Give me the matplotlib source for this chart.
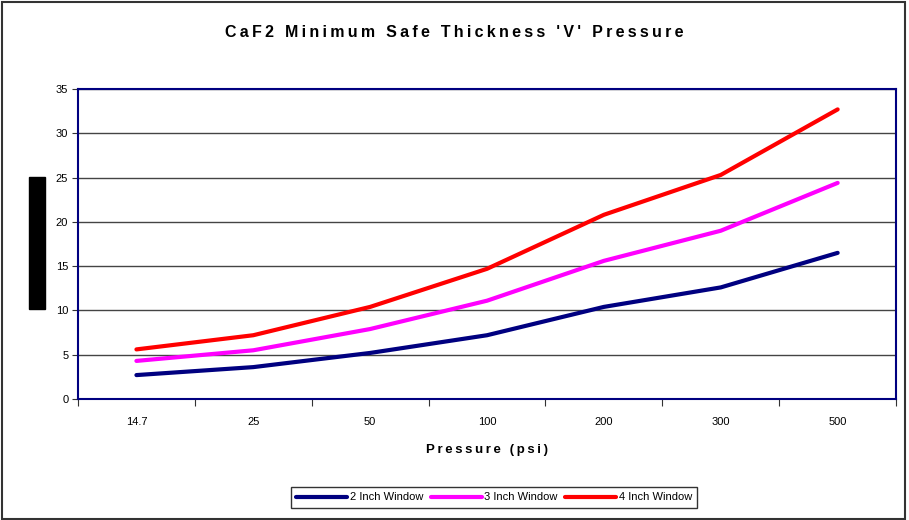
import matplotlib.pyplot as plt
import numpy as np
from matplotlib.patches import Rectangle

plt.rcParams['font.family'] = ['Liberation Sans', 'DejaVu Sans']

pressures = ['14.7', '25', '50', '100', '200', '300', '500']
two_inch = [2.7, 3.6, 5.2, 7.2, 10.4, 12.6, 16.5]
three_inch = [4.3, 5.5, 7.9, 11.1, 15.6, 19.0, 24.4]
four_inch = [5.6, 7.2, 10.4, 14.7, 20.8, 25.3, 32.7]
y_ticks = [0, 5, 10, 15, 20, 25, 30, 35]


def spaced(s):
    # loose letter spacing like the original chart
    return '\u2009 \u2009'.join('\u2009'.join(w) for w in s.split(' '))


fig = plt.figure(figsize=(9.09, 5.20), dpi=100)
ax = fig.add_axes([0.0858, 0.2327, 0.90, 0.5961])

x = np.arange(len(pressures))
ax.plot(x, two_inch, color='#000080', lw=3, label='2 Inch Window', solid_capstyle='round')
ax.plot(x, three_inch, color='#ff00ff', lw=3, label='3 Inch Window', solid_capstyle='round')
ax.plot(x, four_inch, color='#ff0000', lw=3, label='4 Inch Window', solid_capstyle='round')

ax.set_xlim(-0.5, len(pressures) - 0.5)
ax.set_ylim(0, 35)
ax.set_yticks(y_ticks)
ax.yaxis.grid(True, color='#444444', lw=1)
ax.set_axisbelow(True)
ax.tick_params(axis='y', labelsize=8, length=4, color='#333333', pad=3)

# ticks at category boundaries, labels at centres
ax.set_xticks(np.arange(-0.5, len(pressures)))
ax.set_xticklabels([])
ax.set_xticks(x, minor=True)
ax.set_xticklabels(pressures, minor=True, fontsize=8)
ax.tick_params(axis='x', which='major', length=5, color='#333333')
ax.tick_params(axis='x', which='minor', length=0, pad=13)

for s in ax.spines.values():
    s.set_color('#000080')
    s.set_linewidth(1.5)

ax.set_xlabel(spaced('Pressure (psi)'), fontsize=9.5, fontweight='bold', labelpad=12)
fig.suptitle(spaced("CaF2 Minimum Safe Thickness 'V' Pressure"),
             fontsize=11.5, fontweight='bold', y=0.952)

leg = fig.legend(loc='center', bbox_to_anchor=(0.5435, 0.0433), ncol=3,
                 fontsize=8, frameon=True, fancybox=False, edgecolor='black',
                 handlelength=4.6, handletextpad=0.2, columnspacing=0.7, borderpad=0.5)
leg.get_frame().set_linewidth(1)

# redacted axis title block
fig.patches.append(Rectangle((29 / 909, 1 - 309 / 520), 16 / 909, 132 / 520,
                             transform=fig.transFigure, color='black'))
# chart outer border
fig.patches.append(Rectangle((0.002, 0.002), 0.994, 0.994, transform=fig.transFigure,
                             fill=False, edgecolor='#333333', lw=1.5))

plt.savefig('out.png', dpi=100)
